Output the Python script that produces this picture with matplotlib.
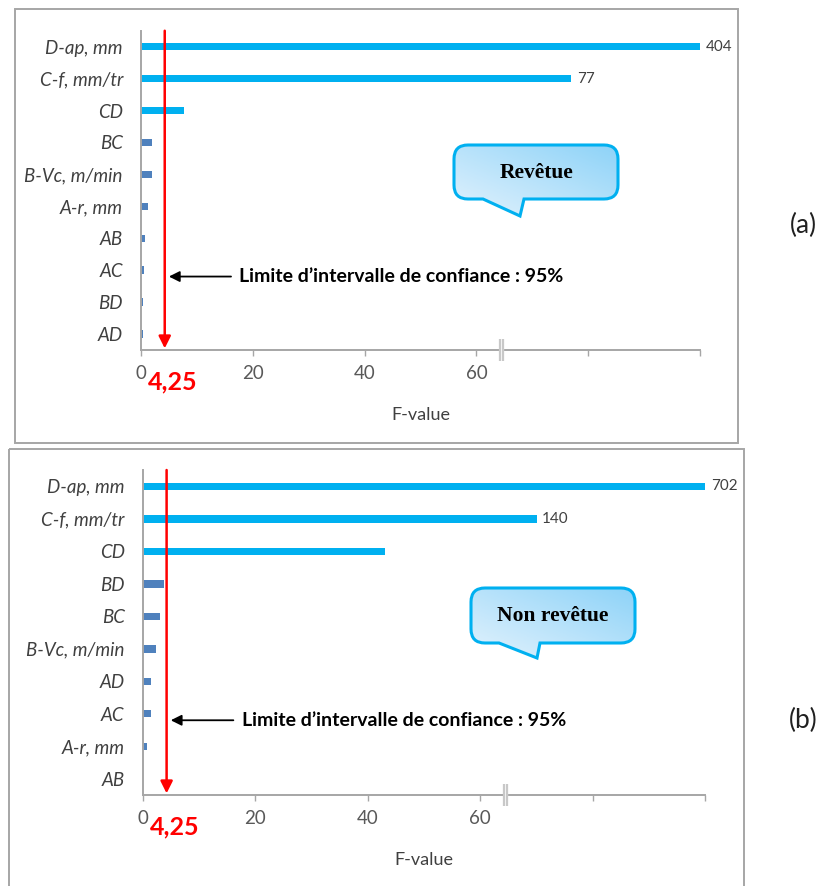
import matplotlib
matplotlib.use("Agg")
import matplotlib.pyplot as plt
import numpy as np
from matplotlib.path import Path
from matplotlib.patches import PathPatch, Rectangle
from matplotlib.colors import LinearSegmentedColormap
import matplotlib.transforms as mtransforms

plt.rcParams["font.family"] = ["Lato", "DejaVu Sans"]

# ---- data (F-values) ----
factors_a = ["D-ap, mm", "C-f, mm/tr", "CD", "BC", "B-Vc, m/min",
             "A-r, mm", "AB", "AC", "BD", "AD"]
fvalues_a = [404, 77, 7.7, 1.9, 1.9, 1.2, 0.8, 0.5, 0.3, 0.3]

factors_b = ["D-ap, mm", "C-f, mm/tr", "CD", "BD", "BC", "B-Vc, m/min",
             "AD", "AC", "A-r, mm", "AB"]
fvalues_b = [702, 140, 43, 3.7, 3.1, 2.4, 1.5, 1.5, 0.8, 0.05]

threshold = 4.25
tick_values = [0, 20, 40, 60, 80, 100]
tick_labels = ["0", "20", "40", "60", "", ""]
panel_titles = ["Revêtue", "Non revêtue"]
panel_tags = ["(a)", "(b)"]

# broken axis: linear up to the break, squeezed after it
brk = 64.5
squeeze = [1.0, 0.073]

SIG = "#00B0F0"
NONSIG = "#4F81BD"
GRID = "#A6A6A6"


def make_scale(k):
    def fwd(x):
        x = np.asarray(x, dtype=float)
        return np.where(x <= brk, x, brk + (x - brk) * k)

    def inv(y):
        y = np.asarray(y, dtype=float)
        return np.where(y <= brk, y, brk + (y - brk) / k)
    return fwd, inv


def callout(ax, x0, y0, x1, y1, tb0, tb1, tip, r=14):
    """Rounded speech bubble in pixel coords (y down)."""
    verts = [(x0 + r, y0), (x1 - r, y0), (x1, y0), (x1, y0 + r),
             (x1, y1 - r), (x1, y1), (x1 - r, y1),
             (tb1, y1), tip, (tb0, y1),
             (x0 + r, y1), (x0, y1), (x0, y1 - r),
             (x0, y0 + r), (x0, y0), (x0 + r, y0), (x0 + r, y0)]
    codes = [Path.MOVETO, Path.LINETO, Path.CURVE3, Path.CURVE3,
             Path.LINETO, Path.CURVE3, Path.CURVE3,
             Path.LINETO, Path.LINETO, Path.LINETO,
             Path.LINETO, Path.CURVE3, Path.CURVE3,
             Path.LINETO, Path.CURVE3, Path.CURVE3, Path.CLOSEPOLY]
    path = Path(verts, codes)
    patch = PathPatch(path, facecolor="none", edgecolor=SIG, lw=2.2, zorder=3)
    ax.add_patch(patch)
    cmap = LinearSegmentedColormap.from_list("bubble", ["#E2F2FD", "#8ED3F8"])
    gx, gy = np.meshgrid(np.linspace(0, 1, 50), np.linspace(0, 1, 50))
    grad = (gx + (1 - gy)) / 2
    im = ax.imshow(grad, cmap=cmap, extent=(x0, x1, tip[1], y0),
                   origin="upper", aspect="auto", zorder=2)
    im.set_clip_path(patch)


fig = plt.figure(figsize=(8.22, 8.86), dpi=100)

# overlay in pixel coordinates for frames, bubbles, tags
over = fig.add_axes([0, 0, 1, 1], zorder=0)
over.set_xlim(0, 822)
over.set_ylim(886, 0)
over.axis("off")
over.add_patch(Rectangle((15, 9), 722.5, 433.5, fill=False, ec=GRID, lw=1.4))
over.add_patch(Rectangle((8.5, 448.5), 735, 445, fill=False, ec=GRID, lw=1.4))

callout(over, 454, 145, 618, 199, 483, 524, (520, 216))
callout(over, 471, 588, 635, 643, 499, 540, (537, 658))
over.text(537, 173, panel_titles[0], family="Liberation Serif",
          fontweight="bold", fontsize=15.5, ha="center", va="center", zorder=4)
over.text(553, 616, panel_titles[1], family="Liberation Serif",
          fontweight="bold", fontsize=15.5, ha="center", va="center", zorder=4)
over.text(803, 225, panel_tags[0], fontsize=19, ha="center", va="center",
          color="#202020")
over.text(803, 720, panel_tags[1], fontsize=19, ha="center", va="center",
          color="#202020")

axes_pos = [[0.1715, 0.6050, 0.6801, 0.3603],
            [0.1736, 0.1027, 0.6843, 0.3668]]
panels = [(factors_a, fvalues_a), (factors_b, fvalues_b)]

for pos, (names, vals), k in zip(axes_pos, panels, squeeze):
    ax = fig.add_axes(pos, zorder=1)
    ax.patch.set_alpha(0)
    fwd, inv = make_scale(k)
    ax.set_xscale("function", functions=(fwd, inv))
    xmax = float(inv(100))
    ax.set_xlim(0, xmax)
    ax.set_ylim(len(names) - 0.5, -0.5)

    y = np.arange(len(names))
    colors = [SIG if v > threshold else NONSIG for v in vals]
    ax.barh(y, vals, height=0.23, color=colors, zorder=2)

    for i, v in enumerate(vals[:2]):
        ax.annotate(str(v), xy=(min(v, xmax), i), xytext=(4, 0),
                    textcoords="offset points", ha="left", va="center",
                    fontsize=11, color="#404040")

    ax.set_yticks(y)
    ax.set_yticklabels(names, fontstyle="italic", fontsize=13.5,
                       color="#404040")
    ax.set_xticks(inv(tick_values))
    ax.set_xticklabels(tick_labels, fontsize=13.5, color="#595959")
    ax.xaxis.set_minor_locator(matplotlib.ticker.NullLocator())
    ax.tick_params(axis="y", length=0, pad=13)
    ax.tick_params(axis="x", length=4.5, width=1, color=GRID, pad=6)
    for s in ("top", "right"):
        ax.spines[s].set_visible(False)
    for s in ("left", "bottom"):
        ax.spines[s].set_color(GRID)
        ax.spines[s].set_linewidth(1.4)

    # break mark on the x axis: white gap between two grey strokes
    blend = mtransforms.blended_transform_factory(ax.transData, ax.transAxes)
    ax.plot([brk, brk], [-0.005, 0.005], transform=blend, color="white",
            lw=3, clip_on=False, zorder=3, solid_capstyle="butt")
    for dx in (-1.4, 1.4):
        tr = mtransforms.offset_copy(blend, fig=fig, x=dx, y=0, units="points")
        ax.plot([brk, brk], [-0.035, 0.035], transform=tr, color="#C8C8C8",
                lw=1.6, clip_on=False, zorder=4, solid_capstyle="butt")

    # red confidence limit arrow
    ax.annotate("", xy=(threshold, len(names) - 0.55), xytext=(threshold, -0.5),
                arrowprops=dict(arrowstyle="-|>", color="red", lw=1.8,
                                mutation_scale=18, shrinkA=0, shrinkB=0),
                zorder=4)
    ax.annotate("4,25", xy=(threshold, 0), xycoords=blend, xytext=(6, -23),
                textcoords="offset points", ha="center", va="center",
                color="red", fontweight="bold", fontsize=18)

    # black pointer to the limit
    ax.annotate("Limite d\u2019intervalle de confiance : 95%",
                xy=(threshold, 7.2), xytext=(17.6, 7.2),
                ha="left", va="center", fontweight="bold", fontsize=14,
                color="black",
                arrowprops=dict(arrowstyle="-|>", color="black", lw=1.3,
                                mutation_scale=16, shrinkA=4, shrinkB=3))

    ax.annotate("F-value", xy=(0.5, 0), xycoords="axes fraction",
                xytext=(0, -47), textcoords="offset points",
                ha="center", va="center", fontsize=13, color="#404040")

fig.savefig("out.png", dpi=100)
plt.close(fig)
